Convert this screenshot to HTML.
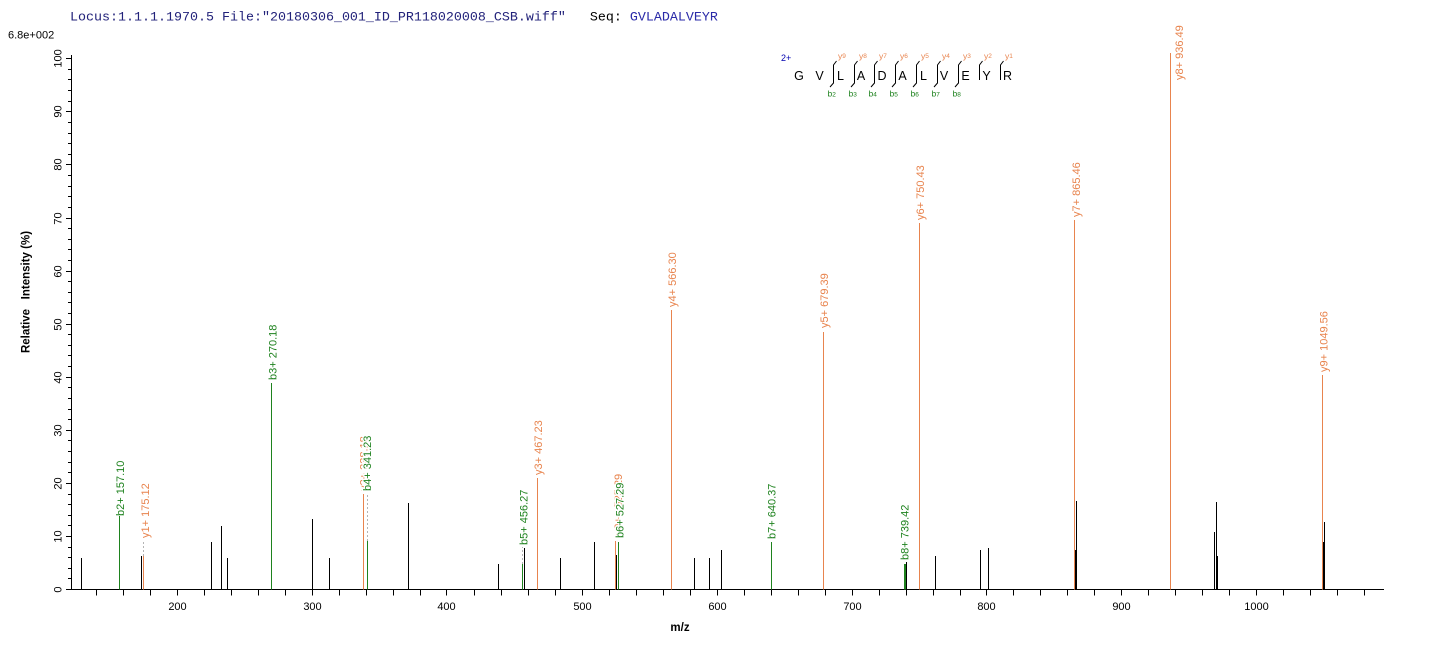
<!DOCTYPE html>
<html>
<head>
<meta charset="utf-8">
<style>
html,body{margin:0;padding:0;background:#fff;}
svg{display:block;}
.t{font-family:"Liberation Sans",Arial,sans-serif;}
.m{font-family:"Liberation Mono","Courier New",monospace;}
</style>
</head>
<body>
<svg width="1436" height="649" viewBox="0 0 1436 649" xmlns="http://www.w3.org/2000/svg">
<rect x="0" y="0" width="1436" height="649" fill="#fff"/>

<!-- header -->
<text class="m" x="70" y="20.5" font-size="13.33" fill="#22227a" xml:space="preserve">Locus:1.1.1.1970.5 File:"20180306_001_ID_PR118020008_CSB.wiff"   <tspan fill="#000">Seq: </tspan><tspan fill="#2a2aa8">GVLADALVEYR</tspan></text>
<text class="t" x="8" y="38.5" font-size="11" fill="#000">6.8e+002</text>

<!-- sequence annotation -->
<text class="t" x="781" y="61" font-size="9" fill="#0000b0">2+</text>
<g class="t" font-size="12.5" fill="#000" text-anchor="middle">
<text x="799" y="80">G</text>
<text x="819.5" y="80">V</text>
<text x="840.5" y="80">L</text>
<text x="861" y="80">A</text>
<text x="882" y="80">D</text>
<text x="902.5" y="80">A</text>
<text x="923.5" y="80">L</text>
<text x="944" y="80">V</text>
<text x="965.5" y="80">E</text>
<text x="986.5" y="80">Y</text>
<text x="1007.5" y="80">R</text>
</g>
<g fill="none" stroke="#000" stroke-width="1">
<path d="M836.5 61 L833.5 65 V83 L830 87"/>
<path d="M857.5 61 L854.5 65 V83 L851 87"/>
<path d="M877.5 61 L874.5 65 V83 L871 87"/>
<path d="M898.5 61 L895.5 65 V83 L892 87"/>
<path d="M919.5 61 L916.5 65 V83 L913 87"/>
<path d="M940.5 61 L937.5 65 V83 L934 87"/>
<path d="M961.5 61 L958.5 65 V83 L955 87"/>
<path d="M982.5 61 L979.5 65 V80"/>
<path d="M1003.5 61 L1000.5 65 V80"/>
</g>
<g class="t" fill="#e8844e" font-size="8.5">
<text x="838" y="59">y<tspan font-size="6.5" dy="-1">9</tspan></text>
<text x="859" y="59">y<tspan font-size="6.5" dy="-1">8</tspan></text>
<text x="879" y="59">y<tspan font-size="6.5" dy="-1">7</tspan></text>
<text x="900" y="59">y<tspan font-size="6.5" dy="-1">6</tspan></text>
<text x="921" y="59">y<tspan font-size="6.5" dy="-1">5</tspan></text>
<text x="942" y="59">y<tspan font-size="6.5" dy="-1">4</tspan></text>
<text x="963" y="59">y<tspan font-size="6.5" dy="-1">3</tspan></text>
<text x="984" y="59">y<tspan font-size="6.5" dy="-1">2</tspan></text>
<text x="1005" y="59">y<tspan font-size="6.5" dy="-1">1</tspan></text>
</g>
<g class="t" fill="#1e821e" font-size="8.5">
<text x="827.5" y="96.5">b<tspan font-size="6.5">2</tspan></text>
<text x="848.5" y="96.5">b<tspan font-size="6.5">3</tspan></text>
<text x="868.5" y="96.5">b<tspan font-size="6.5">4</tspan></text>
<text x="889.5" y="96.5">b<tspan font-size="6.5">5</tspan></text>
<text x="910.5" y="96.5">b<tspan font-size="6.5">6</tspan></text>
<text x="931.5" y="96.5">b<tspan font-size="6.5">7</tspan></text>
<text x="952.5" y="96.5">b<tspan font-size="6.5">8</tspan></text>
</g>

<!-- axes -->
<g stroke="#000" stroke-width="1" fill="none">
<path d="M71.5 55 V589.5 H1384"/>
<!-- y major ticks -->
<path d="M66 589.5H71.5M66 536.5H71.5M66 483.5H71.5M66 430.5H71.5M66 377.5H71.5M66 324.5H71.5M66 271.5H71.5M66 218.5H71.5M66 164.5H71.5M66 111.5H71.5M66 58.5H71.5"/>
<!-- y minor ticks -->
<path d="M68 578.5H71.5M68 568.5H71.5M68 557.5H71.5M68 547.5H71.5M68 525.5H71.5M68 515.5H71.5M68 504.5H71.5M68 494.5H71.5M68 472.5H71.5M68 462.5H71.5M68 451.5H71.5M68 440.5H71.5M68 419.5H71.5M68 409.5H71.5M68 398.5H71.5M68 387.5H71.5M68 366.5H71.5M68 355.5H71.5M68 345.5H71.5M68 334.5H71.5M68 313.5H71.5M68 302.5H71.5M68 292.5H71.5M68 281.5H71.5M68 260.5H71.5M68 249.5H71.5M68 239.5H71.5M68 228.5H71.5M68 207.5H71.5M68 196.5H71.5M68 186.5H71.5M68 175.5H71.5M68 154.5H71.5M68 143.5H71.5M68 133.5H71.5M68 122.5H71.5M68 101.5H71.5M68 90.5H71.5M68 79.5H71.5M68 69.5H71.5"/>
<!-- x ticks -->
<path d="M96.5 589.5V595.5M123.5 589.5V595.5M150.5 589.5V595.5M177.5 589.5V595.5M204.5 589.5V595.5M231.5 589.5V595.5M258.5 589.5V595.5M285.5 589.5V595.5M312.5 589.5V595.5M339.5 589.5V595.5M366.5 589.5V595.5M393.5 589.5V595.5M420.5 589.5V595.5M446.5 589.5V595.5M474.5 589.5V595.5M501.5 589.5V595.5M528.5 589.5V595.5M555.5 589.5V595.5M582.5 589.5V595.5M609.5 589.5V595.5M636.5 589.5V595.5M663.5 589.5V595.5M690.5 589.5V595.5M717.5 589.5V595.5M744.5 589.5V595.5M771.5 589.5V595.5M798.5 589.5V595.5M825.5 589.5V595.5M852.5 589.5V595.5M879.5 589.5V595.5M906.5 589.5V595.5M933.5 589.5V595.5M960.5 589.5V595.5M986.5 589.5V595.5M1013.5 589.5V595.5M1040.5 589.5V595.5M1067.5 589.5V595.5M1094.5 589.5V595.5M1121.5 589.5V595.5M1148.5 589.5V595.5M1175.5 589.5V595.5M1202.5 589.5V595.5M1229.5 589.5V595.5M1256.5 589.5V595.5M1283.5 589.5V595.5M1310.5 589.5V595.5M1337.5 589.5V595.5M1364.5 589.5V595.5"/>
</g>

<!-- x tick labels -->
<g class="t" font-size="11" fill="#000" text-anchor="middle">
<text x="177.5" y="610">200</text>
<text x="312.5" y="610">300</text>
<text x="446.5" y="610">400</text>
<text x="582.5" y="610">500</text>
<text x="717.5" y="610">600</text>
<text x="852.5" y="610">700</text>
<text x="986.5" y="610">800</text>
<text x="1121.5" y="610">900</text>
<text x="1256.5" y="610">1000</text>
</g>

<!-- y tick labels -->
<g class="t" font-size="11" fill="#000" text-anchor="middle">
<text transform="translate(61.5,589.5) rotate(-90)">0</text>
<text transform="translate(61.5,536.5) rotate(-90)">10</text>
<text transform="translate(61.5,483.5) rotate(-90)">20</text>
<text transform="translate(61.5,430.5) rotate(-90)">30</text>
<text transform="translate(61.5,377.5) rotate(-90)">40</text>
<text transform="translate(61.5,324.5) rotate(-90)">50</text>
<text transform="translate(61.5,271.5) rotate(-90)">60</text>
<text transform="translate(61.5,218.5) rotate(-90)">70</text>
<text transform="translate(61.5,164.5) rotate(-90)">80</text>
<text transform="translate(61.5,111.5) rotate(-90)">90</text>
<text transform="translate(61.5,58.5) rotate(-90)">100</text>
</g>

<!-- axis titles -->
<text class="t" transform="translate(29.5,292) rotate(-90)" font-size="11.5" font-weight="bold" text-anchor="middle" fill="#000" xml:space="preserve">Relative   Intensity (%)</text>
<text class="t" x="680" y="631" font-size="11.5" font-weight="bold" text-anchor="middle" fill="#000">m/z</text>

<!-- grey dashed connectors -->
<g stroke="#b4b4b4" stroke-width="1" stroke-dasharray="2,2" fill="none">
<path d="M143.5 556V540"/>
<path d="M367.5 541V493"/>
<path d="M522.5 564V547"/>
</g>

<!-- orange (y ions) -->
<g stroke="#e8844e" stroke-width="1" fill="none">
<path d="M143.5 589.5V556"/>
<path d="M363.5 589.5V494"/>
<path d="M537.5 589.5V478"/>
<path d="M615.5 589.5V541"/>
<path d="M671.5 589.5V310"/>
<path d="M823.5 589.5V332"/>
<path d="M919.5 589.5V223"/>
<path d="M1074.5 589.5V220"/>
<path d="M1170.5 589.5V53"/>
<path d="M1322.5 589.5V375"/>
</g>

<!-- green (b ions) -->
<g stroke="#1e821e" stroke-width="1" fill="none">
<path d="M119.5 589.5V516"/>
<path d="M271.5 589.5V383"/>
<path d="M367.5 589.5V541"/>
<path d="M522.5 589.5V564"/>
<path d="M618.5 589.5V542"/>
<path d="M771.5 589.5V542"/>
<path d="M904.5 589.5V564"/>
<path d="M905.5 589.5V564"/>
</g>

<!-- black peaks -->
<g stroke="#000" stroke-width="1" fill="none">
<path d="M81.5 589.5V558M141.5 589.5V556M211.5 589.5V542M221.5 589.5V526M227.5 589.5V558M312.5 589.5V519M329.5 589.5V558M408.5 589.5V503M498.5 589.5V564M524.5 589.5V548M560.5 589.5V558M594.5 589.5V542M616.5 589.5V555M694.5 589.5V558M709.5 589.5V558M721.5 589.5V550M906.5 589.5V562M935.5 589.5V556M980.5 589.5V550M988.5 589.5V548M1075.5 589.5V550M1076.5 589.5V501M1214.5 589.5V532M1216.5 589.5V502M1217.5 589.5V556M1323.5 589.5V542M1324.5 589.5V522"/>
</g>

<!-- peak labels -->
<g class="t" font-size="11">
<text fill="#e8844e" transform="translate(149.2,538) rotate(-90)">y1+ 175.12</text>
<text fill="#e8844e" transform="translate(367.5,491) rotate(-90)">y2+ 338.18</text>
<text fill="#e8844e" transform="translate(541.8,475) rotate(-90)">y3+ 467.23</text>
<text fill="#e8844e" transform="translate(622,535) rotate(-90)">y9++ 525.29</text>
<text fill="#e8844e" transform="translate(676,307) rotate(-90)">y4+ 566.30</text>
<text fill="#e8844e" transform="translate(828,328) rotate(-90)">y5+ 679.39</text>
<text fill="#e8844e" transform="translate(924,220) rotate(-90)">y6+ 750.43</text>
<text fill="#e8844e" transform="translate(1080,217) rotate(-90)">y7+ 865.46</text>
<text fill="#e8844e" transform="translate(1182.8,80) rotate(-90)">y8+ 936.49</text>
<text fill="#e8844e" transform="translate(1327.5,372) rotate(-90)">y9+ 1049.56</text>

<text fill="#1e821e" transform="translate(124.2,516) rotate(-90)">b2+ 157.10</text>
<text fill="#1e821e" transform="translate(276.5,380) rotate(-90)">b3+ 270.18</text>
<text fill="#1e821e" stroke="#fff" stroke-width="2.5" paint-order="stroke" transform="translate(371,491) rotate(-90)">b4+ 341.23</text>
<text fill="#1e821e" transform="translate(527.5,545) rotate(-90)">b5+ 456.27</text>
<text fill="#1e821e" stroke="#fff" stroke-width="2.5" paint-order="stroke" transform="translate(623.5,538) rotate(-90)">b6+ 527.29</text>
<text fill="#1e821e" transform="translate(775.5,539) rotate(-90)">b7+ 640.37</text>
<text fill="#1e821e" transform="translate(908.5,560) rotate(-90)">b8+ 739.42</text>
</g>
</svg>
</body>
</html>
